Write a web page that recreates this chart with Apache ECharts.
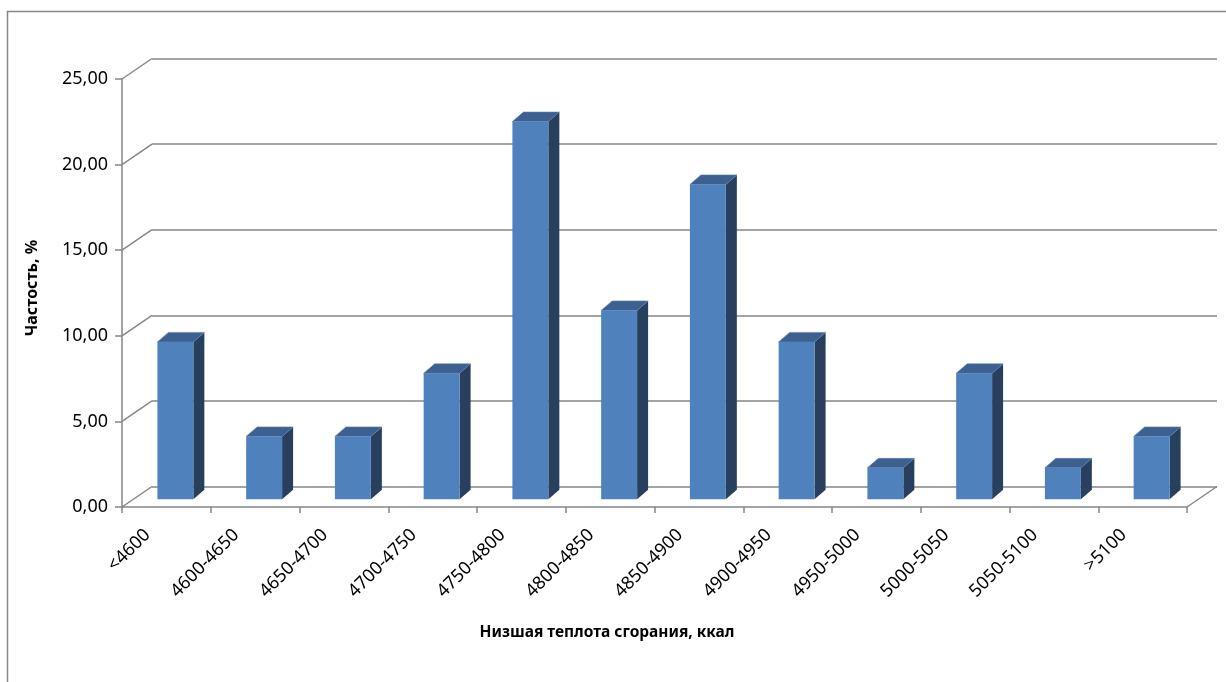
<!DOCTYPE html>
<html>
<head>
<meta charset="utf-8">
<script src="https://cdn.jsdelivr.net/npm/echarts@6/dist/echarts.min.js"></script>
<style>
  html, body { margin: 0; padding: 0; background: #fff; }
  #chart { width: 1226px; height: 682px; }
</style>
</head>
<body>
<div id="chart"></div>
<script>
// Heat value classes (kcal) and their relative frequency, %
const categories = ['<4600', '4600-4650', '4650-4700', '4700-4750', '4750-4800', '4800-4850',
  '4850-4900', '4900-4950', '4950-5000', '5000-5050', '5050-5100', '>5100'];
const frequencies = [9.26, 3.70, 3.70, 7.41, 22.22, 11.11, 18.52, 9.26, 1.85, 7.41, 1.85, 3.70];
const yTicks = [0, 5, 10, 15, 20, 25];

const xTitle = 'Низшая теплота сгорания, ккал';
const yTitle = 'Частость, %';

const FONT = '"Noto Sans", sans-serif';
const LINE = '#868686';

// oblique offset of the back wall relative to the front plane
const WALL_DX = 30, WALL_DY = -20.5;
// bars stand halfway into the floor depth
const BAR_DX = 9, BAR_DY = -7.7, BAR_DEPTH_X = 11, BAR_DEPTH_Y = -9.5, BAR_SCALE = 0.993;
// slanted category labels: anchor of the label's right end relative to the band centre
const LABEL_DX = -19, LABEL_DY = 25;

const FRONT = { left: 122, top: 79, width: 1065, height: 428 };

const chart = echarts.init(document.getElementById('chart'), null, { renderer: 'canvas' });

function fmt(v) { return v.toFixed(2).replace('.', ','); }

const option = {
  backgroundColor: '#fff',
  animation: false,
  graphic: [{
    type: 'rect', z: 0, silent: true,
    shape: { x: 7.5, y: 11.5, width: 1240, height: 700 },
    style: { fill: 'none', stroke: LINE, lineWidth: 1.5 }
  }, {
    type: 'text', z: 5, x: 607, y: 633, silent: true,
    style: {
      text: xTitle, fill: '#000', font: 'bold 15.5px ' + FONT,
      textAlign: 'center', textVerticalAlign: 'middle'
    }
  }, {
    type: 'text', z: 5, x: 32, y: 288, rotation: Math.PI / 2, silent: true,
    style: {
      text: yTitle, fill: '#000', font: 'bold 16px ' + FONT,
      textAlign: 'center', textVerticalAlign: 'middle'
    }
  }],
  grid: [
    { left: FRONT.left, top: FRONT.top, width: FRONT.width, height: FRONT.height },
    { left: FRONT.left + WALL_DX, top: FRONT.top + WALL_DY, width: FRONT.width, height: FRONT.height }
  ],
  xAxis: [{
    gridIndex: 0, type: 'category', data: categories,
    axisLine: { lineStyle: { color: LINE, width: 1.5 } },
    axisTick: { show: true, interval: 0, length: 6, lineStyle: { color: LINE, width: 1.5 } },
    axisLabel: { show: false }
  }, {
    gridIndex: 1, type: 'value', min: 0, max: 1, show: false
  }],
  yAxis: [{
    gridIndex: 0, type: 'value', min: 0, max: 25, interval: 5,
    axisLine: { show: true, lineStyle: { color: LINE, width: 1.5 } },
    axisTick: { show: true, length: 7, lineStyle: { color: LINE, width: 1.5 } },
    axisLabel: {
      margin: 14, padding: [5, 0, 0, 0],
      color: '#000', fontFamily: FONT, fontSize: 18, formatter: fmt
    },
    splitLine: { show: false }
  }, {
    gridIndex: 1, type: 'value', min: 0, max: 25, interval: 5,
    axisLine: { show: false }, axisTick: { show: false }, axisLabel: { show: false },
    splitLine: { show: true, lineStyle: { color: LINE, width: 1.5 } }
  }],
  series: [{
    // diagonal edges joining the front axis to the back wall
    type: 'custom', xAxisIndex: 0, yAxisIndex: 0, z: 1, silent: true, clip: false,
    data: yTicks.map(v => [0, v]),
    renderItem: function (params, api) {
      const cs = params.coordSys;
      const y = api.coord([0, api.value(1)])[1];
      const style = { stroke: LINE, lineWidth: 1.5 };
      const children = [{
        type: 'line', shape: { x1: cs.x, y1: y, x2: cs.x + WALL_DX, y2: y + WALL_DY }, style: style
      }];
      if (api.value(1) === 0) {
        const xr = cs.x + cs.width;
        children.push({
          type: 'line', shape: { x1: xr, y1: y, x2: xr + WALL_DX, y2: y + WALL_DY }, style: style
        });
      }
      return { type: 'group', children: children };
    }
  }, {
    // slanted category labels under the floor
    type: 'custom', xAxisIndex: 0, yAxisIndex: 0, z: 5, silent: true, clip: false,
    data: categories.map((c, i) => [i, 0]),
    renderItem: function (params, api) {
      const idx = api.value(0);
      const p = api.coord([idx, 0]);
      return {
        type: 'text',
        x: p[0] + LABEL_DX, y: p[1] + LABEL_DY,
        rotation: Math.PI / 4,
        style: {
          text: categories[idx], fill: '#000', font: '18px ' + FONT,
          textAlign: 'right', textVerticalAlign: 'middle'
        }
      };
    }
  }, {
    // 3D-style columns: front, top and side faces
    type: 'custom', xAxisIndex: 0, yAxisIndex: 0, z: 3, clip: false,
    data: frequencies.map((v, i) => [i, v]),
    encode: { x: 0, y: 1 },
    renderItem: function (params, api) {
      const idx = api.value(0);
      const base = api.coord([idx, 0]);
      const top = api.coord([idx, api.value(1)]);
      const band = api.size([1, 0])[0];
      const w = band * 0.405;
      const cx = base[0] + BAR_DX;
      const x1 = cx - w / 2, x2 = cx + w / 2;
      const yb = base[1] + BAR_DY;
      const yt = yb - (base[1] - top[1]) * BAR_SCALE;
      const dx = BAR_DEPTH_X, dy = BAR_DEPTH_Y;
      return {
        type: 'group',
        children: [{
          type: 'polygon',
          shape: { points: [[x2, yt], [x2 + dx, yt + dy], [x2 + dx, yb + dy], [x2, yb]] },
          style: { fill: '#283F5E' }
        }, {
          type: 'polygon',
          shape: { points: [[x1, yt], [x2, yt], [x2 + dx, yt + dy], [x1 + dx, yt + dy]] },
          style: { fill: '#3C6191', stroke: '#5A7FAE', lineWidth: 0.6 }
        }, {
          type: 'rect',
          shape: { x: x1, y: yt, width: w, height: yb - yt },
          style: { fill: '#4F81BD' }
        }]
      };
    }
  }]
};

chart.setOption(option);
</script>
</body>
</html>
